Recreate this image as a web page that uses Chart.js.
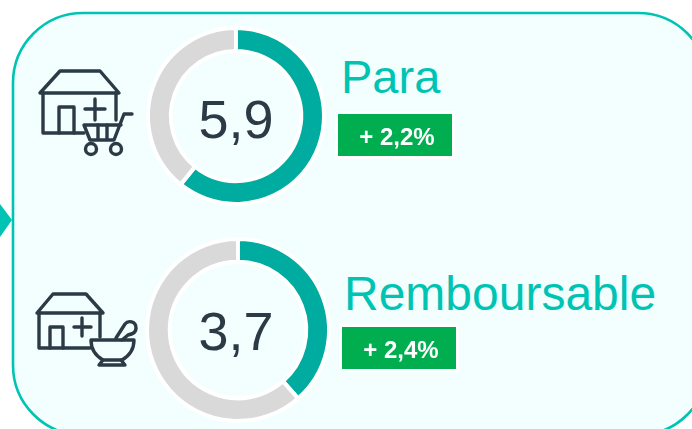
<!DOCTYPE html>
<html lang="fr">
<head>
<meta charset="utf-8">
<script src="https://cdn.jsdelivr.net/npm/chart.js@4"></script>
<style>
html,body{margin:0;padding:0;background:#fff;overflow:hidden}
#stage{position:relative;width:692px;height:429px;overflow:hidden;font-family:"Liberation Sans",Arial,sans-serif}
#stage>svg{position:absolute;left:0;top:0}
.holder{position:absolute}
.value{position:absolute;color:#2b3a45;font-size:54px;line-height:60px;width:120px;text-align:center}
.title{position:absolute;color:#00c4b3;line-height:54px;white-space:nowrap}
.badge{position:absolute;width:110px;padding-left:4px;height:42px;background:#00ae4f;box-shadow:0 0 0 3px #fff;color:#fff;font-weight:bold;font-size:24px;line-height:45px;text-align:center;white-space:nowrap}
</style>
</head>
<body>
<div id="stage">
<svg width="692" height="429" viewBox="0 0 692 429">
  <rect x="13" y="13" width="695" height="422" rx="70" ry="70" fill="#f3ffff" stroke="#00c4b3" stroke-width="2.6"/>
  <polygon points="0,204 12,220 0,237" fill="#00c4b3"/>
  <g fill="none" stroke="#2b3a45" stroke-width="3.4" stroke-linecap="round" stroke-linejoin="round">
    <path d="M40 93 L60 71 H100 L119 93 Z"/>
    <path d="M43 93 V133 H84 M116 93 V120"/>
    <path d="M59 133 V107 H74 V133"/>
    <path d="M85 109 H105 M95 99 V120"/>
    <path d="M132 114 H124 L114 140 H90 L84 125 H121"/>
    <path d="M98 125 V139 M107 125 V139"/>
    <circle cx="91" cy="149" r="5.5"/><circle cx="116" cy="149" r="5.5"/>
    <path d="M37 313 L53 294 H86 L103 313 Z"/>
    <path d="M39 313 V348 H90 M100 313 V337"/>
    <path d="M50 348 V327 H63 V348"/>
    <path d="M74 327 H91 M82 318 V336"/>
    <path d="M91 340 H134 C134 350 129 356 122 360 H103 C96 356 91 350 91 340 Z"/>
    <path d="M103 360 L99 365 H125 L121 360"/>
    <path d="M116 338 L125 324 C128 320 136 321 136 328 C136 333 132 334 128 335 L122 340"/>
  </g>
</svg>
<div class="holder" style="left:141px;top:21px;width:190px;height:190px"><canvas id="donutPara" width="190" height="190"></canvas></div>
<div class="holder" style="left:139px;top:231px;width:198px;height:198px"><canvas id="donutRemb" width="198" height="198"></canvas></div>
<div class="value" style="left:176px;top:89px">5,9</div>
<div class="value" style="left:176px;top:301px">3,7</div>
<div class="title" style="left:341px;top:50px;font-size:47px">Para</div>
<div class="title" style="left:344px;top:267px;font-size:48px">Remboursable</div>
<div class="badge" style="left:338px;top:114px">+ 2,2%</div>
<div class="badge" style="left:342px;top:327px">+ 2,4%</div>
</div>
<script>
const categories = ["Part", "Reste"];
const paraValues = [5.9, 3.8];
const rembValues = [3.7, 5.9];
const sliceColors = ["#00ab9f", "#d9d9d9"];

function donut(id, values, radius, cutout) {
  new Chart(document.getElementById(id), {
    type: "doughnut",
    data: { labels: categories, datasets: [{ data: values, backgroundColor: sliceColors, borderColor: "#ffffff", borderWidth: 4 }] },
    options: {
      responsive: false, animation: false, radius: radius, cutout: cutout,
      plugins: { legend: { display: false }, tooltip: { enabled: false } }
    }
  });
}
donut("donutPara", paraValues, 88, "74%");
donut("donutRemb", rembValues, 91, "75%");
</script>
</body>
</html>
